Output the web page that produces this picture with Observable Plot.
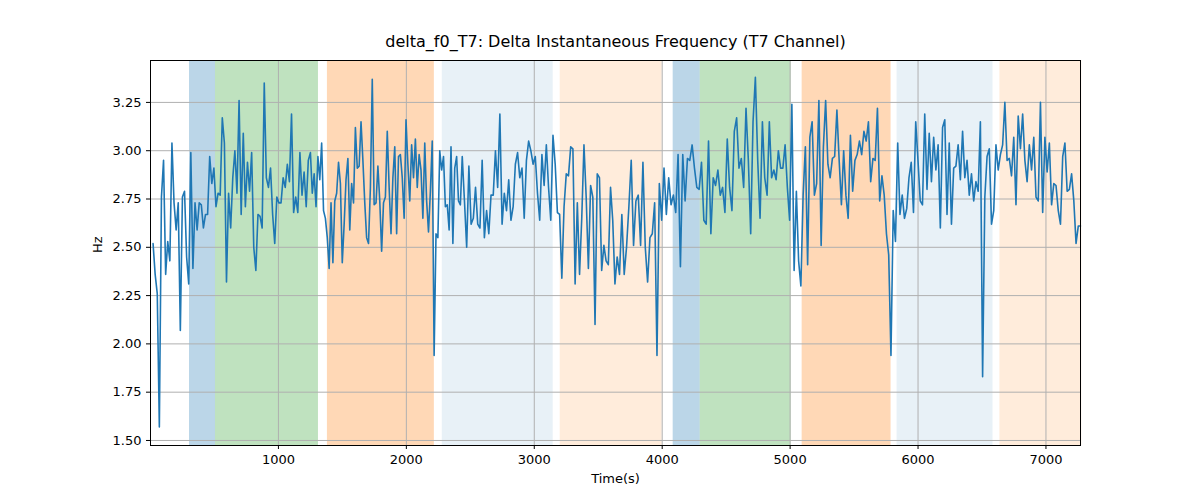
<!DOCTYPE html>
<html><head><meta charset="utf-8">
<script src="https://cdn.jsdelivr.net/npm/d3@7"></script>
<script src="https://cdn.jsdelivr.net/npm/@observablehq/plot@0.6"></script>
<style>body{margin:0;background:#fff;font-family:"DejaVu Sans",sans-serif}</style>
</head><body><div id="c"></div>
<script>
const segBounds = [[20,1250],[1250,2437],[2437,3648],[3648,4820],[4820,6070],[6070,7270]];
const seg1 = [2.52,2.36,2.26,1.57,2.76,2.95,2.36,2.53,2.43,3.04,2.73,2.59,2.73,2.07,2.76,2.79,2.45,2.31,2.99,2.39,2.73,2.59,2.73,2.72,2.6,2.67,2.67,2.97,2.83,2.91,2.71,2.78,2.77,3.17,3.04,2.32,2.78,2.6,2.86,3.0,2.78,3.26,2.67,3.09,2.71,2.94,2.79,2.99,2.5,2.38,2.67,2.66,2.6,3.35,2.86,2.81,2.91,2.67,2.52,2.76,2.73,2.73,2.86,2.81,2.93,2.84,3.19,2.68,2.76,2.68,2.99,2.77,2.89,2.71,2.95];
const seg2 = [2.99,2.78,2.88,2.71,2.97,2.85,3.04,2.69,2.65,2.55,2.39,2.73,2.42,2.74,2.78,2.94,2.83,2.42,2.62,2.85,2.96,2.59,2.83,2.73,3.12,2.91,2.92,3.15,2.95,2.73,2.55,2.52,2.81,3.37,2.72,2.73,2.92,2.74,2.48,2.73,2.76,3.1,2.81,2.57,2.86,3.02,2.57,2.97,2.98,2.86,2.65,3.16,2.93,2.74,3.03,2.86,3.06,2.81,2.98,2.9,2.65,3.04,2.74,2.58,2.79,3.05,1.94,2.57,2.55,3.0,2.9,2.97,2.71,2.72,2.59,3.02,2.52,2.91,2.97,2.74,2.72];
const seg3 = [2.97,2.74,2.5,2.92,2.62,2.65,2.81,2.62,2.6,2.95,2.55,2.69,2.57,2.77,2.77,3.0,2.81,3.19,2.62,2.78,2.69,2.85,2.64,2.71,2.93,2.99,2.86,2.91,2.65,2.95,3.05,3.0,2.93,2.97,2.78,2.64,2.98,2.82,3.03,2.81,2.64,3.08,2.93,2.68,2.67,2.34,2.71,2.88,2.87,3.02,3.01,2.31,2.73,2.36,2.65,3.03,2.76,2.39,2.82,2.76,2.1,2.88,2.86,2.38,2.51,2.43,2.41,2.81,2.64,2.31];
const seg4 = [2.45,2.36,2.67,2.36,2.5,2.71,2.95,2.51,2.74,2.77,2.51,2.94,2.5,2.32,2.55,2.57,2.73,1.94,2.83,2.64,2.91,2.67,2.86,2.72,2.77,2.68,2.98,2.4,2.98,2.74,2.96,2.95,3.03,2.91,2.81,2.8,2.94,2.64,2.62,3.05,2.57,2.86,2.82,2.9,2.77,2.81,2.68,3.06,2.81,2.69,3.1,3.17,2.91,2.96,2.81,3.22,2.95,2.57,3.15,3.38,2.95,2.65,3.15,2.86];
const seg5 = [2.77,3.15,2.86,2.9,2.85,3.0,2.91,2.91,3.03,2.81,2.64,3.24,2.38,2.79,2.43,2.3,2.77,3.02,2.41,3.07,3.15,2.77,2.83,3.26,2.51,3.02,3.26,2.93,2.86,2.96,2.97,3.21,2.95,2.72,3.0,2.77,2.65,3.08,2.79,2.95,2.98,3.05,2.98,3.1,3.05,3.15,2.84,2.96,2.95,3.22,2.74,2.87,2.77,2.57,2.46,1.94,2.69,2.53,3.04,2.67,2.77,2.65,2.7,2.86,2.94,2.68,3.15,2.95,2.74,2.72,3.19];
const seg6 = [2.8,3.09,2.84,3.07,2.9,3.03,2.6,3.12,3.16,2.67,3.04,2.62,2.91,2.92,3.03,2.85,3.1,2.86,2.95,2.77,2.88,2.74,2.84,2.79,3.15,1.83,2.76,2.97,3.01,2.62,2.69,3.03,2.9,2.98,3.03,3.25,2.95,2.96,2.87,3.07,2.72,3.18,3.01,3.19,2.95,2.84,3.03,2.9,3.07,2.76,2.74,3.25,2.68,3.07,2.89,3.04,2.72,2.83,2.82,2.69,2.62,2.97,3.04,2.79,2.8,2.88,2.74,2.52,2.61];
const segs = [seg1,seg2,seg3,seg4,seg5,seg6];
const regionStart = [305,508,1383,2281,3203,4086,4297,5094,5836,6640];
const regionEnd =   [508,1313,2219,3148,4000,4297,5008,5789,6586,7280];
const regionColor = ["#1f77b4","#2ca02c","#ff7f0e","#1f77b4","#ff7f0e","#1f77b4","#2ca02c","#ff7f0e","#1f77b4","#ff7f0e"];
const regionAlpha = [0.3,0.3,0.3,0.1,0.15,0.3,0.3,0.3,0.1,0.15];
const yTicks = [1.5,1.75,2.0,2.25,2.5,2.75,3.0,3.25];
const xTicks = [1000,2000,3000,4000,5000,6000,7000];

const data = [];
segs.forEach((s,k)=>{
  const [a,b]=segBounds[k];
  s.forEach((v,i)=>data.push({t:a+(b-a)*i/s.length, v}));
});
data.push({t:7270, v:2.61});
const regions = regionStart.map((s,i)=>({s, e:regionEnd[i], c:regionColor[i], a:regionAlpha[i]}));

const chart = Plot.plot({
  width:1200, height:500,
  marginTop:60, marginBottom:55, marginLeft:150, marginRight:120,
  style:{fontFamily:"DejaVu Sans, sans-serif", fontSize:"13px", color:"#000"},
  x:{domain:[0,7270], ticks:xTicks, tickFormat:d=>String(d), label:null, tickSize:4},
  y:{domain:[1.474,3.467], ticks:yTicks, tickFormat:d3.format(".2f"), label:null, tickSize:4},
  marks:[
    Plot.rectX(regions,{x1:"s",x2:"e",fill:"c",fillOpacity:"a"}),
    Plot.gridX(xTicks,{stroke:"#b0b0b0",strokeOpacity:1,strokeWidth:1}),
    Plot.gridY(yTicks,{stroke:"#b0b0b0",strokeOpacity:1,strokeWidth:1}),
    Plot.lineY(data,{x:"t",y:"v",stroke:"#1f77b4",strokeWidth:1.6}),
    Plot.frame({stroke:"#000"}),
    Plot.text(["delta_f0_T7: Delta Instantaneous Frequency (T7 Channel)"],{frameAnchor:"top",dy:-14,lineAnchor:"bottom",fontSize:16,fill:"#000"}),
    Plot.text(["Time(s)"],{frameAnchor:"bottom",dy:37,fontSize:13,fill:"#000"}),
    Plot.text(["Hz"],{frameAnchor:"left",dx:-53,rotate:-90,fontSize:13,fill:"#000"})
  ]
});
document.getElementById("c").appendChild(chart);
</script></body></html>
